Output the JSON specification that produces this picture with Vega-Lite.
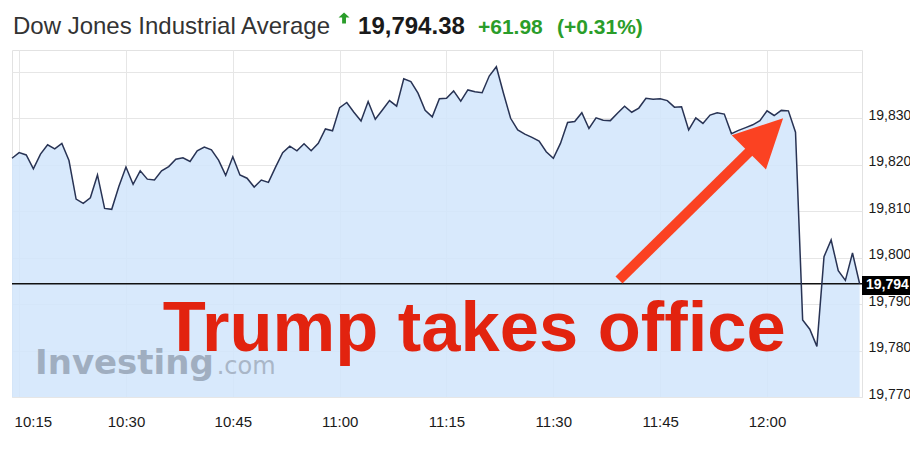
{
  "$schema": "https://vega.github.io/schema/vega-lite/v6.json",
  "width": 850,
  "height": 347,
  "autosize": {"type": "none"},
  "padding": {"left": 12, "top": 50, "right": 48, "bottom": 58},
  "background": "white",
  "config": {
    "view": {"stroke": "#e2e2e2", "strokeWidth": 1},
    "axis": {"domain": false, "ticks": false, "tickSize": 0, "gridColor": "#e6e6e6", "gridWidth": 1, "labelFont": "Liberation Sans", "labelColor": "#1a1a1a", "title": null}
  },
  "datasets": {
    "px": [
      {"t": "2017-01-20T10:14:00", "v": 19821.4},
      {"t": "2017-01-20T10:15:00", "v": 19822.6},
      {"t": "2017-01-20T10:16:00", "v": 19822.1},
      {"t": "2017-01-20T10:17:00", "v": 19819.1},
      {"t": "2017-01-20T10:18:00", "v": 19822.3},
      {"t": "2017-01-20T10:19:00", "v": 19824.3},
      {"t": "2017-01-20T10:20:00", "v": 19823.4},
      {"t": "2017-01-20T10:21:00", "v": 19824.6},
      {"t": "2017-01-20T10:22:00", "v": 19820.9},
      {"t": "2017-01-20T10:23:00", "v": 19812.6},
      {"t": "2017-01-20T10:24:00", "v": 19811.7},
      {"t": "2017-01-20T10:25:00", "v": 19812.9},
      {"t": "2017-01-20T10:26:00", "v": 19817.8},
      {"t": "2017-01-20T10:27:00", "v": 19810.6},
      {"t": "2017-01-20T10:28:00", "v": 19810.4},
      {"t": "2017-01-20T10:29:00", "v": 19815.3},
      {"t": "2017-01-20T10:30:00", "v": 19819.5},
      {"t": "2017-01-20T10:31:00", "v": 19815.8},
      {"t": "2017-01-20T10:32:00", "v": 19818.7},
      {"t": "2017-01-20T10:33:00", "v": 19816.9},
      {"t": "2017-01-20T10:34:00", "v": 19816.7},
      {"t": "2017-01-20T10:35:00", "v": 19818.7},
      {"t": "2017-01-20T10:36:00", "v": 19819.6},
      {"t": "2017-01-20T10:37:00", "v": 19821.2},
      {"t": "2017-01-20T10:38:00", "v": 19821.5},
      {"t": "2017-01-20T10:39:00", "v": 19820.7},
      {"t": "2017-01-20T10:40:00", "v": 19823.0},
      {"t": "2017-01-20T10:41:00", "v": 19823.8},
      {"t": "2017-01-20T10:42:00", "v": 19823.2},
      {"t": "2017-01-20T10:43:00", "v": 19821.0},
      {"t": "2017-01-20T10:44:00", "v": 19817.7},
      {"t": "2017-01-20T10:45:00", "v": 19821.7},
      {"t": "2017-01-20T10:46:00", "v": 19817.8},
      {"t": "2017-01-20T10:47:00", "v": 19817.1},
      {"t": "2017-01-20T10:48:00", "v": 19815.2},
      {"t": "2017-01-20T10:49:00", "v": 19816.7},
      {"t": "2017-01-20T10:50:00", "v": 19816.2},
      {"t": "2017-01-20T10:51:00", "v": 19819.5},
      {"t": "2017-01-20T10:52:00", "v": 19822.6},
      {"t": "2017-01-20T10:53:00", "v": 19824.0},
      {"t": "2017-01-20T10:54:00", "v": 19823.0},
      {"t": "2017-01-20T10:55:00", "v": 19824.5},
      {"t": "2017-01-20T10:56:00", "v": 19823.0},
      {"t": "2017-01-20T10:57:00", "v": 19824.6},
      {"t": "2017-01-20T10:58:00", "v": 19827.7},
      {"t": "2017-01-20T10:59:00", "v": 19827.3},
      {"t": "2017-01-20T11:00:00", "v": 19832.3},
      {"t": "2017-01-20T11:01:00", "v": 19833.4},
      {"t": "2017-01-20T11:02:00", "v": 19831.3},
      {"t": "2017-01-20T11:03:00", "v": 19829.4},
      {"t": "2017-01-20T11:04:00", "v": 19833.6},
      {"t": "2017-01-20T11:05:00", "v": 19829.8},
      {"t": "2017-01-20T11:06:00", "v": 19831.8},
      {"t": "2017-01-20T11:07:00", "v": 19833.8},
      {"t": "2017-01-20T11:08:00", "v": 19832.6},
      {"t": "2017-01-20T11:09:00", "v": 19838.5},
      {"t": "2017-01-20T11:10:00", "v": 19837.9},
      {"t": "2017-01-20T11:11:00", "v": 19835.4},
      {"t": "2017-01-20T11:12:00", "v": 19831.7},
      {"t": "2017-01-20T11:13:00", "v": 19830.3},
      {"t": "2017-01-20T11:14:00", "v": 19834.2},
      {"t": "2017-01-20T11:15:00", "v": 19834.3},
      {"t": "2017-01-20T11:16:00", "v": 19835.9},
      {"t": "2017-01-20T11:17:00", "v": 19833.7},
      {"t": "2017-01-20T11:18:00", "v": 19836.1},
      {"t": "2017-01-20T11:19:00", "v": 19835.7},
      {"t": "2017-01-20T11:20:00", "v": 19835.5},
      {"t": "2017-01-20T11:21:00", "v": 19839.1},
      {"t": "2017-01-20T11:22:00", "v": 19841.1},
      {"t": "2017-01-20T11:23:00", "v": 19835.4},
      {"t": "2017-01-20T11:24:00", "v": 19830.0},
      {"t": "2017-01-20T11:25:00", "v": 19827.5},
      {"t": "2017-01-20T11:26:00", "v": 19826.6},
      {"t": "2017-01-20T11:27:00", "v": 19825.9},
      {"t": "2017-01-20T11:28:00", "v": 19825.1},
      {"t": "2017-01-20T11:29:00", "v": 19822.8},
      {"t": "2017-01-20T11:30:00", "v": 19821.4},
      {"t": "2017-01-20T11:31:00", "v": 19824.6},
      {"t": "2017-01-20T11:32:00", "v": 19829.1},
      {"t": "2017-01-20T11:33:00", "v": 19829.3},
      {"t": "2017-01-20T11:34:00", "v": 19831.2},
      {"t": "2017-01-20T11:35:00", "v": 19827.8},
      {"t": "2017-01-20T11:36:00", "v": 19830.1},
      {"t": "2017-01-20T11:37:00", "v": 19829.6},
      {"t": "2017-01-20T11:38:00", "v": 19829.5},
      {"t": "2017-01-20T11:39:00", "v": 19831.1},
      {"t": "2017-01-20T11:40:00", "v": 19832.6},
      {"t": "2017-01-20T11:41:00", "v": 19831.3},
      {"t": "2017-01-20T11:42:00", "v": 19832.2},
      {"t": "2017-01-20T11:43:00", "v": 19834.3},
      {"t": "2017-01-20T11:44:00", "v": 19834.1},
      {"t": "2017-01-20T11:45:00", "v": 19834.2},
      {"t": "2017-01-20T11:46:00", "v": 19833.8},
      {"t": "2017-01-20T11:47:00", "v": 19832.4},
      {"t": "2017-01-20T11:48:00", "v": 19832.5},
      {"t": "2017-01-20T11:49:00", "v": 19827.5},
      {"t": "2017-01-20T11:50:00", "v": 19830.1},
      {"t": "2017-01-20T11:51:00", "v": 19828.9},
      {"t": "2017-01-20T11:52:00", "v": 19830.7},
      {"t": "2017-01-20T11:53:00", "v": 19831.2},
      {"t": "2017-01-20T11:54:00", "v": 19830.9},
      {"t": "2017-01-20T11:55:00", "v": 19826.7},
      {"t": "2017-01-20T11:56:00", "v": 19827.4},
      {"t": "2017-01-20T11:57:00", "v": 19828.0},
      {"t": "2017-01-20T11:58:00", "v": 19828.6},
      {"t": "2017-01-20T11:59:00", "v": 19829.5},
      {"t": "2017-01-20T12:00:00", "v": 19831.6},
      {"t": "2017-01-20T12:01:00", "v": 19830.6},
      {"t": "2017-01-20T12:02:00", "v": 19831.7},
      {"t": "2017-01-20T12:03:00", "v": 19831.6},
      {"t": "2017-01-20T12:04:00", "v": 19827.0},
      {"t": "2017-01-20T12:05:00", "v": 19786.6},
      {"t": "2017-01-20T12:06:00", "v": 19784.6},
      {"t": "2017-01-20T12:07:00", "v": 19780.9},
      {"t": "2017-01-20T12:08:00", "v": 19800.2},
      {"t": "2017-01-20T12:09:00", "v": 19803.8},
      {"t": "2017-01-20T12:10:00", "v": 19797.2},
      {"t": "2017-01-20T12:11:00", "v": 19795.1},
      {"t": "2017-01-20T12:12:00", "v": 19801.0},
      {"t": "2017-01-20T12:13:00", "v": 19794.38}
    ],
    "last": [{"t": "2017-01-20T10:14:00", "t2": "2017-01-20T12:13:20", "v": 19794.38}],
    "title": [{"t": "2017-01-20T10:14:08", "v": 19848.1, "label": "Dow Jones Industrial Average"}],
    "price": [{"t": "2017-01-20T11:02:35", "v": 19848.1, "label": "19,794.38"}],
    "change": [
      {"t": "2017-01-20T11:19:25", "v": 19848.1, "label": "+61.98"},
      {"t": "2017-01-20T11:30:31", "v": 19848.1, "label": "(+0.31%)"}
    ],
    "up": [{"t": "2017-01-20T11:00:37", "v": 19851.6}],
    "brand": [{"t": "2017-01-20T10:17:14", "v": 19774.9, "label": "Investing"}],
    "brand2": [{"t": "2017-01-20T10:42:44", "v": 19774.9, "label": ".com"}],
    "note": [{"t": "2017-01-20T10:35:10", "v": 19780.0, "label": "Trump takes office"}],
    "shaft": [{"t": "2017-01-20T11:39:13", "v": 19795.2, "t2": "2017-01-20T11:59:51", "v2": 19826.34}],
    "head": [{"t": "2017-01-20T11:59:51", "v": 19826.34}],
    "box": [{"t": "2017-01-20T12:13:20", "v": 19796.05, "t2": "2017-01-20T12:21:00", "v2": 19791.96}],
    "boxlabel": [{"t": "2017-01-20T12:13:53", "v": 19794.1, "label": "19,794"}]
  },
  "encoding": {
    "x": {
      "field": "t",
      "type": "temporal",
      "scale": {"domain": [
        {"year": 2017, "month": 1, "date": 20, "hours": 10, "minutes": 14},
        {"year": 2017, "month": 1, "date": 20, "hours": 12, "minutes": 13, "seconds": 20}
      ]},
      "axis": {
        "format": "%H:%M",
        "values": [
          {"year": 2017, "month": 1, "date": 20, "hours": 10, "minutes": 15},
          {"year": 2017, "month": 1, "date": 20, "hours": 10, "minutes": 30},
          {"year": 2017, "month": 1, "date": 20, "hours": 10, "minutes": 45},
          {"year": 2017, "month": 1, "date": 20, "hours": 11, "minutes": 0},
          {"year": 2017, "month": 1, "date": 20, "hours": 11, "minutes": 15},
          {"year": 2017, "month": 1, "date": 20, "hours": 11, "minutes": 30},
          {"year": 2017, "month": 1, "date": 20, "hours": 11, "minutes": 45},
          {"year": 2017, "month": 1, "date": 20, "hours": 12, "minutes": 0}
        ],
        "labelFontSize": 15, "labelPadding": 17, "labelAngle": 0, "labelFlush": 15, "labelFlushOffset": 5, "grid": true
      }
    },
    "y": {
      "field": "v",
      "type": "quantitative",
      "scale": {"domain": [19770, 19844.7], "zero": false, "nice": false},
      "axis": {"orient": "right", "values": [19770, 19780, 19790, 19800, 19810, 19820, 19830, 19840], "format": ",d", "labelExpr": "datum.value > 19835 ? '' : datum.label", "labelFontSize": 14, "labelPadding": 6, "labelOffset": -3, "labelBaseline": "middle", "labelFlush": false, "grid": true}
    }
  },
  "layer": [
    {"data": {"name": "px"}, "mark": {"type": "area", "color": "#d1e5fc", "opacity": 0.85}, "encoding": {"y2": {"datum": 19770}}},
    {"data": {"name": "brand"}, "mark": {"type": "text", "font": "DejaVu Sans", "fontWeight": "bold", "fontSize": 34, "color": "#a0aec0", "align": "left", "baseline": "alphabetic"}, "encoding": {"text": {"field": "label"}}},
    {"data": {"name": "brand2"}, "mark": {"type": "text", "font": "DejaVu Sans", "fontSize": 24, "color": "#a9b6c7", "align": "left", "baseline": "alphabetic"}, "encoding": {"text": {"field": "label"}}},
    {"data": {"name": "last"}, "mark": {"type": "rule", "color": "#111111", "strokeWidth": 1.3}, "encoding": {"x2": {"field": "t2"}}},
    {"data": {"name": "px"}, "mark": {"type": "line", "color": "#283354", "strokeWidth": 1.5}},
    {"data": {"name": "note"}, "mark": {"type": "text", "font": "Liberation Sans", "fontWeight": "bold", "fontSize": 70.5, "color": "#e2230f", "align": "left", "baseline": "alphabetic"}, "encoding": {"text": {"field": "label"}}},
    {"data": {"name": "shaft"}, "mark": {"type": "rule", "color": "#fb4222", "strokeWidth": 10, "strokeCap": "butt"}, "encoding": {"x2": {"field": "t2"}, "y2": {"field": "v2"}}},
    {"data": {"name": "head"}, "mark": {"type": "point", "shape": "M0,-1L1,1L-1,1Z", "size": 2352, "angle": 45, "filled": true, "color": "#fb4222", "opacity": 1, "strokeWidth": 0}},
    {"data": {"name": "box"}, "mark": {"type": "rect", "color": "#000000"}, "encoding": {"x2": {"field": "t2"}, "y2": {"field": "v2"}}},
    {"data": {"name": "boxlabel"}, "mark": {"type": "text", "font": "Liberation Sans", "fontWeight": "bold", "fontSize": 14, "color": "#ffffff", "align": "left", "baseline": "middle"}, "encoding": {"text": {"field": "label"}}},
    {"data": {"name": "title"}, "mark": {"type": "text", "font": "Liberation Sans", "fontSize": 24, "color": "#333333", "align": "left", "baseline": "alphabetic"}, "encoding": {"text": {"field": "label"}}},
    {"data": {"name": "price"}, "mark": {"type": "text", "font": "Liberation Sans", "fontWeight": "bold", "fontSize": 24, "color": "#1a1a1a", "align": "left", "baseline": "alphabetic"}, "encoding": {"text": {"field": "label"}}},
    {"data": {"name": "change"}, "mark": {"type": "text", "font": "Liberation Sans", "fontWeight": "bold", "fontSize": 21, "color": "#2a9d2a", "align": "left", "baseline": "alphabetic"}, "encoding": {"text": {"field": "label"}}},
    {"data": {"name": "up"}, "mark": {"type": "point", "shape": "M0,-1L1,-0.1L0.35,-0.1L0.35,1L-0.35,1L-0.35,-0.1L-1,-0.1Z", "size": 121, "filled": true, "color": "#2a9d2a", "opacity": 1, "strokeWidth": 0}}
  ]
}
